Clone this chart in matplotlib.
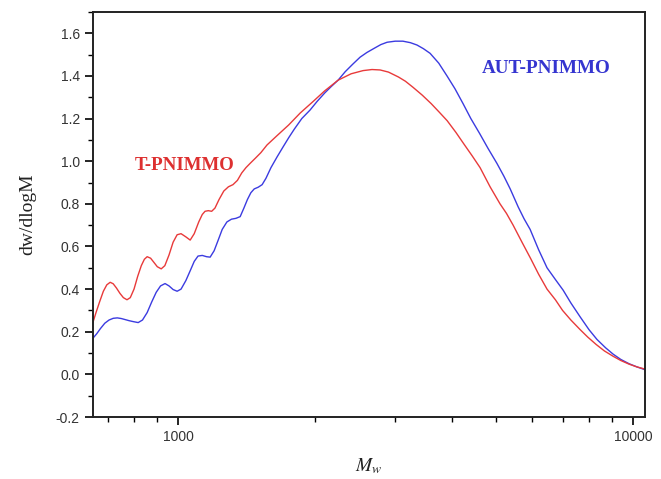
import matplotlib
matplotlib.use("Agg")
import matplotlib.pyplot as plt
from matplotlib.ticker import FixedLocator, MultipleLocator, NullFormatter, FixedFormatter

# molecular weight distribution curves
red_mw = [650, 660, 672, 685, 697, 709, 720, 732, 745, 758, 772, 785, 800, 815, 830,
          843, 855, 870, 885, 900, 918, 935, 955, 975, 995, 1015, 1040, 1063, 1085,
          1110, 1130, 1146, 1165, 1185, 1205, 1230, 1260, 1290, 1320, 1350, 1380,
          1410, 1440, 1480, 1520, 1568, 1650, 1750, 1855, 1980, 2100, 2247, 2400,
          2550, 2668, 2780, 2900, 3050, 3160, 3282, 3440, 3600, 3750, 3903, 4080,
          4250, 4430, 4610, 4850, 5100, 5270, 5450, 5700, 5950, 6200, 6470, 6750,
          7000, 7300, 7650, 7950, 8300, 8650, 9040, 9400, 9800, 10200, 10620]
red_y = [0.245, 0.29, 0.34, 0.39, 0.42, 0.432, 0.425, 0.405, 0.38, 0.36, 0.35, 0.36, 0.40, 0.46, 0.51,
         0.54, 0.552, 0.545, 0.525, 0.505, 0.495, 0.51, 0.56, 0.62, 0.655, 0.66, 0.645, 0.63, 0.66,
         0.715, 0.75, 0.765, 0.768, 0.765, 0.78, 0.82, 0.86, 0.88, 0.89, 0.91, 0.945,
         0.97, 0.99, 1.015, 1.04, 1.076, 1.12, 1.17, 1.226, 1.28, 1.33, 1.38, 1.41,
         1.425, 1.43, 1.428, 1.418, 1.395, 1.375, 1.347, 1.31, 1.27, 1.23, 1.19, 1.135,
         1.08, 1.025, 0.97, 0.88, 0.80, 0.755, 0.70, 0.62, 0.545, 0.47, 0.40, 0.35,
         0.30, 0.255, 0.21, 0.175, 0.14, 0.11, 0.085, 0.065, 0.048, 0.035, 0.025]

blue_mw = [650, 662, 675, 690, 705, 720, 735, 750, 765, 780, 795, 817, 835, 855, 875,
           895, 915, 936, 955, 975, 995, 1015, 1040, 1065, 1085, 1106, 1130, 1155,
           1176, 1200, 1225, 1250, 1280, 1310, 1340, 1369, 1395, 1420, 1445, 1470,
           1500, 1530, 1560, 1600, 1650, 1701, 1750, 1800, 1870, 1950, 2020, 2100,
           2170, 2247, 2330, 2420, 2512, 2600, 2700, 2790, 2880, 3000, 3120, 3240,
           3350, 3460, 3580, 3740, 3900, 4060, 4230, 4400, 4600, 4800, 5020, 5200,
           5370, 5590, 5760, 5940, 6200, 6470, 6750, 7020, 7300, 7650, 8000, 8330,
           8700, 9040, 9400, 9800, 10200, 10620]
blue_y = [0.17, 0.19, 0.215, 0.24, 0.255, 0.263, 0.265, 0.262, 0.257, 0.252, 0.248, 0.243, 0.255, 0.29, 0.34,
          0.385, 0.415, 0.426, 0.415, 0.398, 0.39, 0.40, 0.44, 0.49, 0.53, 0.555, 0.558, 0.552,
          0.55, 0.58, 0.63, 0.68, 0.715, 0.728, 0.732, 0.74, 0.78, 0.82, 0.852, 0.87,
          0.878, 0.89, 0.92, 0.97, 1.02, 1.067, 1.11, 1.15, 1.20, 1.24, 1.28, 1.32,
          1.35, 1.38, 1.42, 1.455, 1.488, 1.51, 1.53, 1.547, 1.558, 1.563, 1.563, 1.556,
          1.545, 1.528, 1.506, 1.46, 1.40, 1.34, 1.27, 1.20, 1.13, 1.06, 0.99, 0.93,
          0.87, 0.786, 0.73, 0.68, 0.585, 0.50, 0.445, 0.395, 0.335, 0.27, 0.21, 0.164,
          0.125, 0.095, 0.07, 0.05, 0.035, 0.022]

plt.rcParams["mathtext.fontset"] = "stix"

fig = plt.figure(figsize=(6.61, 4.79), dpi=100)
ax = fig.add_axes([0.1407, 0.1294, 0.835, 0.8456])

ax.plot(blue_mw, blue_y, color="#3b3be0", lw=1.0)
ax.plot(red_mw, red_y, color="#e83a3a", lw=1.0)

ax.set_xscale("log")
ax.set_xlim(650, 10620)
ax.set_ylim(-0.2, 1.7)

ax.xaxis.set_major_locator(FixedLocator([1000, 10000]))
ax.xaxis.set_major_formatter(FixedFormatter(["1000", "10000"]))
ax.xaxis.set_minor_locator(FixedLocator([700, 800, 900, 2000, 3000, 4000, 5000,
                                         6000, 7000, 8000, 9000]))
ax.xaxis.set_minor_formatter(NullFormatter())
ax.yaxis.set_minor_locator(MultipleLocator(0.1))
ax.set_yticks([-0.2, 0.0, 0.2, 0.4, 0.6, 0.8, 1.0, 1.2, 1.4, 1.6])
ax.set_yticklabels(["-0.2", "0.0", "0.2", "0.4", "0.6", "0.8", "1.0", "1.2", "1.4", "1.6"])

ax.tick_params(which="major", direction="out", length=6, width=1.2,
               labelsize=10, labelcolor="#333333")
ax.tick_params(which="minor", direction="out", length=3.5, width=1.0)
for lab in ax.get_xticklabels() + ax.get_yticklabels():
    lab.set_fontfamily("Liberation Sans")
for sp in ax.spines.values():
    sp.set_linewidth(1.4)
    sp.set_color("#222222")

ax.set_ylabel("dw/dlogM", fontfamily="Liberation Serif", fontsize=14,
              color="#222222", labelpad=14)
ax.set_xlabel(r"$\mathit{M}_{\mathit{w}}$", fontsize=14, color="#222222", labelpad=9)

ax.text(1036, 0.98, "T-PNIMMO", color="#dd3030", fontfamily="Liberation Serif",
        fontsize=13.6, fontweight="bold", ha="center", va="center")
ax.text(6442, 1.436, "AUT-PNIMMO", color="#3535d0", fontfamily="Liberation Serif",
        fontsize=13.8, fontweight="bold", ha="center", va="center")

fig.savefig("out.png", dpi=100)
